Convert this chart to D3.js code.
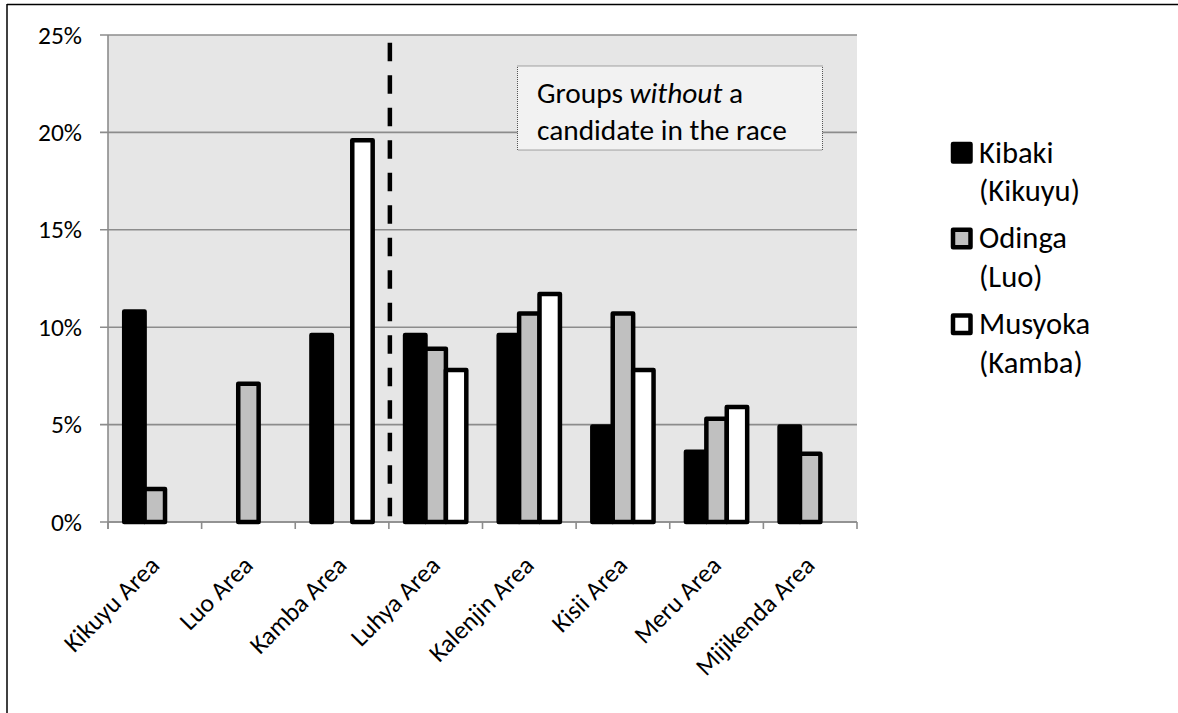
<!DOCTYPE html>
<html>
<head>
<meta charset="utf-8">
<script src="https://cdn.jsdelivr.net/npm/d3@7"></script>
<style>
  html, body { margin: 0; padding: 0; background: #fff; }
  svg { display: block; }
  text { font-family: Carlito, Lato, "Open Sans", sans-serif; fill: #000; }
</style>
</head>
<body>
<svg id="chart" width="1178" height="713"></svg>
<script>
// Vote share (%) by area for each candidate
const categories = ["Kikuyu Area", "Luo Area", "Kamba Area", "Luhya Area",
                    "Kalenjin Area", "Kisii Area", "Meru Area", "Mijikenda Area"];
const kibaki  = [10.8, null, 9.6, 9.6, 9.6, 4.9, 3.6, 4.9];
const odinga  = [1.7, 7.1, null, 8.9, 10.7, 10.7, 5.3, 3.5];
const musyoka = [null, null, 19.6, 7.8, 11.7, 7.8, 5.9, null];

const seriesNames = ["Kibaki", "Odinga", "Musyoka"];
const legendLines = [["Kibaki", "(Kikuyu)"], ["Odinga", "(Luo)"], ["Musyoka", "(Kamba)"]];
const seriesFill = ["#000000", "#c0c0c0", "#ffffff"];
const yTicks = [0, 5, 10, 15, 20, 25];
const dividerTop = 24.6;          // dashed divider spans 0 .. this value
const boxLines = [["Groups ", "without", " a"], ["candidate in the race"]];

const series = [kibaki, odinga, musyoka];

const svg = d3.select("#chart");
const plot = { left: 108, right: 857, top: 35, bottom: 522 };

// font size that makes the given strings span `width` pixels in total
function fitSize(samples, width) {
  let w = 0;
  [].concat(samples).forEach(s => {
    const t = svg.append("text").attr("font-size", 100).text(s);
    w += t.node().getComputedTextLength();
    t.remove();
  });
  return 100 * width / w;
}
const axisSize = fitSize("25%", 44);
const legendSize = fitSize(legendLines.flat(), 542);
const boxSize = fitSize("candidate in the race", 250);

const x = d3.scaleBand().domain(categories)
  .range([plot.left, plot.right]).paddingInner(0.346).paddingOuter(0.173);
const xs = d3.scaleBand().domain(seriesNames).range([0, x.bandwidth()]);
const y = d3.scaleLinear().domain([0, 25]).range([plot.bottom, plot.top]);
const step = x.step();
const boundary = i => x(categories[0]) - step * 0.173 + i * step;

// outer frame (top and left edges only)
svg.append("line").attr("x1", 7).attr("x2", 1178).attr("y1", 4.5).attr("y2", 4.5)
  .attr("stroke", "#000").attr("stroke-width", 1.5);
svg.append("line").attr("x1", 7).attr("x2", 7).attr("y1", 4).attr("y2", 713)
  .attr("stroke", "#000").attr("stroke-width", 1.5);

// plot background
svg.append("rect").attr("x", plot.left).attr("y", plot.top)
  .attr("width", plot.right - plot.left).attr("height", plot.bottom - plot.top)
  .attr("fill", "#e6e6e6");

// horizontal gridlines with left tick stubs
svg.append("g").selectAll("line").data(yTicks).join("line")
  .attr("x1", plot.left - 8).attr("x2", plot.right)
  .attr("y1", d => y(d)).attr("y2", d => y(d))
  .attr("stroke", "#8c8c8c").attr("stroke-width", 1.6);

// y axis line
svg.append("line").attr("x1", plot.left).attr("x2", plot.left)
  .attr("y1", plot.top).attr("y2", plot.bottom + 7)
  .attr("stroke", "#8c8c8c").attr("stroke-width", 1.6);

// y tick labels
svg.append("g").selectAll("text").data(yTicks).join("text")
  .attr("x", 82).attr("y", d => y(d)).attr("dy", "0.34em")
  .attr("text-anchor", "end").attr("font-size", axisSize)
  .text(d => d + "%");

// x axis line and category boundary ticks
svg.append("line").attr("x1", plot.left).attr("x2", plot.right)
  .attr("y1", plot.bottom).attr("y2", plot.bottom)
  .attr("stroke", "#8c8c8c").attr("stroke-width", 1.6);
svg.append("g").selectAll("line").data(d3.range(categories.length + 1)).join("line")
  .attr("x1", i => boundary(i)).attr("x2", i => boundary(i))
  .attr("y1", plot.bottom).attr("y2", plot.bottom + 7)
  .attr("stroke", "#8c8c8c").attr("stroke-width", 1.6);

// bars
const barData = [];
series.forEach((vals, s) => vals.forEach((v, i) => {
  if (v != null) barData.push({ cat: categories[i], s, v });
}));
svg.append("g").selectAll("rect").data(barData).join("rect")
  .attr("x", d => x(d.cat) + xs(seriesNames[d.s]))
  .attr("width", xs.bandwidth())
  .attr("y", d => y(d.v))
  .attr("height", d => y(0) - y(d.v))
  .attr("fill", d => seriesFill[d.s])
  .attr("stroke", "#000").attr("stroke-width", 4.5)
  .attr("stroke-linejoin", "round");

// dashed divider between the candidates' home areas and the other groups
const divX = boundary(3) + 1;
svg.append("line").attr("x1", divX).attr("x2", divX)
  .attr("y1", y(dividerTop)).attr("y2", y(0))
  .attr("stroke", "#000").attr("stroke-width", 4.5)
  .attr("stroke-dasharray", "18.5 14");

// annotation box
svg.append("rect").attr("x", 517.5).attr("y", 66).attr("width", 305).attr("height", 84)
  .attr("fill", "#f2f2f2").attr("stroke", "#555").attr("stroke-width", 1)
  .attr("stroke-dasharray", "1 1");
const boxText = svg.append("g");
boxLines.forEach((parts, li) => {
  const t = boxText.append("text").attr("x", 537).attr("y", 103 + li * 36.5)
    .attr("font-size", boxSize).attr("xml:space", "preserve");
  parts.forEach((p, pi) => {
    t.append("tspan").attr("font-style", parts.length > 1 && pi === 1 ? "italic" : "normal")
      .text(p);
  });
});

// category labels, rotated
svg.append("g").selectAll("text").data(categories).join("text")
  .attr("transform", d => `translate(${x(d) + x.bandwidth() / 2 + 6},567) rotate(-45)`)
  .attr("text-anchor", "end").attr("font-size", axisSize)
  .text(d => d);

// legend
const legend = svg.append("g");
legendLines.forEach((lines, i) => {
  const top = 144 + i * 85.8;
  legend.append("rect").attr("x", 953).attr("y", top).attr("width", 17.5).attr("height", 17.5)
    .attr("fill", seriesFill[i]).attr("stroke", "#000").attr("stroke-width", 4.5)
    .attr("stroke-linejoin", "round");
  lines.forEach((ln, j) => {
    legend.append("text").attr("x", 979).attr("y", top + 18.5 + j * 38.5)
      .attr("font-size", legendSize).text(ln);
  });
});
</script>
</body>
</html>
